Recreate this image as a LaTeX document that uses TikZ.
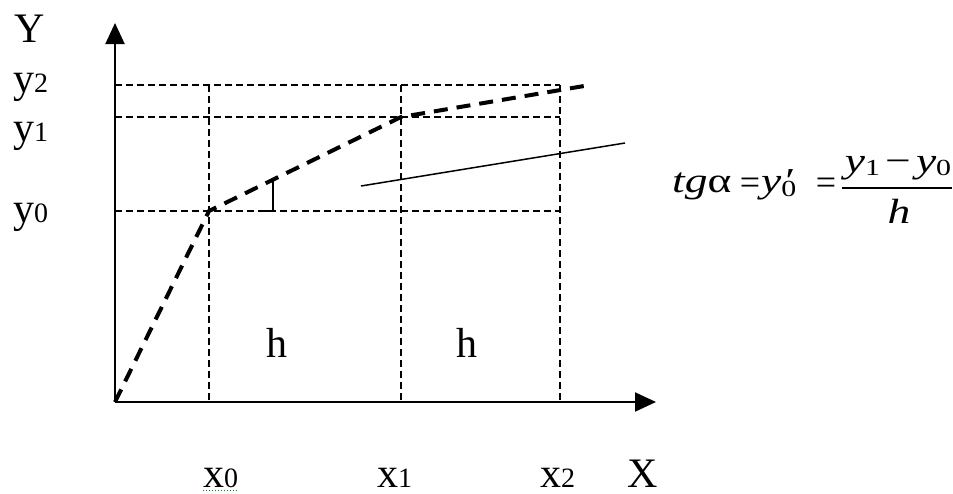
\documentclass[tikz,border=0pt]{standalone}
\usepackage{fontspec}
\setmainfont{Liberation Serif}
\usetikzlibrary{arrows.meta}
\newcommand\lblfont{\fontsize{42}{48}\selectfont}
\newcommand\subfont{\fontsize{28}{32}\selectfont}
\newcommand\fmfont{\fontsize{35}{40}\selectfont}
\newcommand\fmsub{\fontsize{23}{26}\selectfont}
\newcommand\eqfont{\fontsize{36}{40}\selectfont}
\newcommand\wide[1]{\scalebox{1.3}[1]{#1}}
\begin{document}
\begin{tikzpicture}[x=1pt,y=-1pt,
  lab/.style={inner sep=0pt, anchor=base west, font=\lblfont},
  botlab/.style={lab, text depth=0pt},
  fm/.style={inner sep=0pt, font=\fmfont},
  eqsign/.style={inner sep=0pt, anchor=base, font=\eqfont},
  gridline/.style={line width=1.2pt, dash pattern=on 7pt off 4pt},
  curveline/.style={line width=4pt, dash pattern=on 14pt off 9pt},
  axis/.style={line width=2pt, -{Triangle[width=19pt,length=21pt]}},
  thinline/.style={line width=1.5pt}]
\useasboundingbox (0,0) rectangle (953,493);
% coordinates
\coordinate (O) at (115,402);
\coordinate (YT) at (115,23);
\coordinate (XT) at (656,402);
\coordinate (P0) at (209,211);
\coordinate (P1) at (401,117);
\coordinate (P2) at (590,85);
\coordinate (A2) at (115,85);  \coordinate (B2) at (560,85);
\coordinate (A1) at (115,117); \coordinate (B1) at (560,117);
\coordinate (A0) at (115,211); \coordinate (B0) at (560,211);
\coordinate (V0t) at (209,85); \coordinate (V0b) at (209,402);
\coordinate (V1t) at (401,85); \coordinate (V1b) at (401,402);
\coordinate (V2t) at (560,85); \coordinate (V2b) at (560,402);
\coordinate (R1) at (258,211); \coordinate (R2) at (273,211); \coordinate (R3) at (273,180);
\coordinate (T1) at (361,186); \coordinate (T2) at (625,143);
\coordinate (F1) at (842,188); \coordinate (F2) at (952,188);
\coordinate (U1) at (203,490); \coordinate (U2) at (238,490);
% grid
\draw[gridline] (A2) -- (B2);
\draw[gridline] (A1) -- (B1);
\draw[gridline] (A0) -- (B0);
\draw[gridline] (V0t) -- (V0b);
\draw[gridline] (V1t) -- (V1b);
\draw[gridline] (V2t) -- (V2b);
% axes
\draw[axis] (O) -- (YT);
\draw[axis] (O) -- (XT);
% curve
\draw[curveline] (O) -- (P0) -- (P1) -- (P2);
% right angle and tangent
\draw[thinline] (R1) -- (R2) -- (R3);
\draw[thinline] (T1) -- (T2);
% labels
\node[lab] (Y) at (14,42) {Y};
\node[lab] (ly2) at (13,92) {y{\subfont 2}};
\node[lab] (ly1) at (13,141) {y{\subfont 1}};
\node[lab] (ly0) at (13,222) {y{\subfont 0}};
\node[botlab] (lx0) at (203,487) {x{\subfont 0}};
\node[botlab] (lx1) at (377,487) {x{\subfont 1}};
\node[botlab] (lx2) at (540,487) {x{\subfont 2}};
\node[botlab] (X) at (627,487) {X};
\node[lab, anchor=base] (h1) at (277,357) {h};
\node[lab, anchor=base] (h2) at (467,357) {h};
\draw[green!55!black, line width=1pt, dotted] (U1) -- (U2);
% formula
\node[fm, anchor=base west] (tga) at (672,192) {\wide{{\itshape tg}α}};
\node[eqsign] (eq1) at (750,194) {=};
\node[fm, anchor=base west] (yp) at (761,192)
  {\wide{{\itshape y}\rlap{\hspace{1pt}\itshape ′}{\fmsub\raisebox{-0.2em}{0}}}};
\node[eqsign] (eq2) at (826,194) {=};
\node[fm, anchor=base] (num) at (898,172)
  {\wide{{\itshape y}{\fmsub\raisebox{-0.15em}{1}}\hspace{4pt}−\hspace{4pt}{\itshape y}{\fmsub\raisebox{-0.15em}{0}}}};
\node[fm, anchor=base] (den) at (899,223) {\wide{\itshape h}};
\draw[line width=2pt] (F1) -- (F2);
\end{tikzpicture}
\end{document}
